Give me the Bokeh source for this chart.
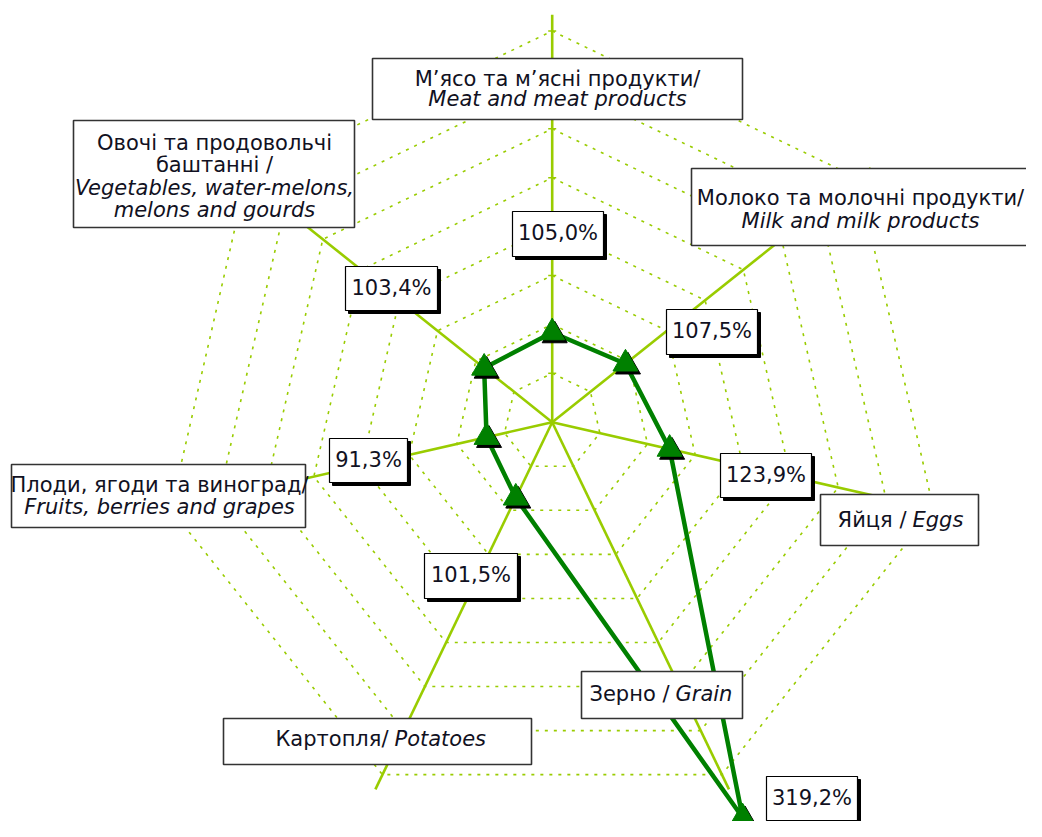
import math
from bokeh.plotting import figure
from bokeh.models import Range1d
from bokeh.core.properties import value
from bokeh.embed import file_html
from bokeh.resources import INLINE

# ---------------- data ----------------
categories_uk = ["М’ясо та м’ясні продукти/", "Молоко та молочні продукти/", "Яйця /",
                 "Зерно /", "Картопля/", "Плоди, ягоди та виноград/",
                 "Овочі та продовольчі\nбаштанні /"]
categories_en = ["Meat and meat products", "Milk and milk products", "Eggs",
                 "Grain", "Potatoes", "Fruits, berries and grapes",
                 "Vegetables, water-melons,\nmelons and gourds"]
values = [105.0, 107.5, 123.9, 319.2, 101.5, 91.3, 103.4]
axis_min = 50
axis_max = 300
grid_step = 30

# ---------------- layout (reference pixel space) ----------------
CX, CY = 551.7, 421.7      # centre of the radar in picture pixels
A = 1.63                   # pixels per percentage point
W, H = 1026, 821
FONT = value("DejaVu Sans")
FS = value("21px")
TXT = "#111122"
GRID_C = "#99CC00"
SER_C = "#008000"


def tx(X):
    return (X - CX) / A


def ty(Y):
    return (CY - Y) / A


# value label boxes (left, top, right, bottom)
value_boxes = [(512, 211, 603, 256), (666, 309, 757, 354), (720, 453, 811, 497),
               (766, 776, 857, 820), (424, 553, 517, 598), (329, 438, 407, 482),
               (345, 266, 437, 310)]
# category label boxes and text placement
cat_boxes = [(372, 58, 742, 119), (691, 168, 1050, 245), (820, 494, 978, 545),
             (581, 671, 742, 718), (223, 718, 531, 764), (11, 464, 305, 527),
             (73, 120, 354, 227)]
# stacked: ("stack", centre x, [line y...]); inline: ("inline", split x, y)
cat_text = [("stack", 557, [78, 98]), ("stack", 860, [197, 220]), ("inline", 909, 519),
            ("inline", 672, 693), ("inline", 391, 738), ("stack", 159, [484, 506]),
            ("stack", 214, [142, 164, 187, 209])]

p = figure(width=W, height=H, output_backend="svg", toolbar_location=None,
           x_range=Range1d(tx(0), tx(W)), y_range=Range1d(ty(H), ty(0)),
           x_axis_location=None, y_axis_location=None, min_border=0)
p.grid.visible = False
p.outline_line_color = None
p.background_fill_color = "white"
p.border_fill_color = "white"

n = len(values)
angles = [math.pi / 2 - 2 * math.pi * i / n for i in range(n)]

# grid rings
ring_xs, ring_ys = [], []
g = axis_min + grid_step
while g < axis_max:
    r = g - axis_min
    ring_xs.append([r * math.cos(a) for a in angles] + [r * math.cos(angles[0])])
    ring_ys.append([r * math.sin(a) for a in angles] + [r * math.sin(angles[0])])
    g += grid_step
p.multi_line(ring_xs, ring_ys, line_color=GRID_C, line_width=1.6, line_dash="3 6")

# spokes
R = axis_max - axis_min
p.segment(x0=[0] * n, y0=[0] * n, x1=[R * math.cos(a) for a in angles],
          y1=[R * math.sin(a) for a in angles], line_color=GRID_C, line_width=2.6)

# tick marks on the first axis
tick_r = [r for r in range(grid_step, R, grid_step)]
p.segment(x0=[-4 / A] * len(tick_r), x1=[4 / A] * len(tick_r), y0=tick_r, y1=tick_r,
          line_color=GRID_C, line_width=1.5)

# series
xs = [(v - axis_min) * math.cos(a) for v, a in zip(values, angles)]
ys = [(v - axis_min) * math.sin(a) for v, a in zip(values, angles)]
p.line(xs + [xs[0]], ys + [ys[0]], line_color=SER_C, line_width=4.5, line_join="round")
p.scatter([x + 2.5 / A for x in xs], [y - 3 / A for y in ys], marker="triangle", size=25,
          fill_color="black", line_color="black")
p.scatter(xs, ys, marker="triangle", size=25, fill_color=SER_C, line_color=SER_C)

# value labels with shadow
sh = 3
p.quad(left=[tx(b[0] + sh) for b in value_boxes], right=[tx(b[2] + sh) for b in value_boxes],
       top=[ty(b[1] + sh) for b in value_boxes], bottom=[ty(b[3] + sh) for b in value_boxes],
       fill_color="black", line_color="black")
p.quad(left=[tx(b[0]) for b in value_boxes], right=[tx(b[2]) for b in value_boxes],
       top=[ty(b[1]) for b in value_boxes], bottom=[ty(b[3]) for b in value_boxes],
       fill_color="white", line_color="black", line_width=1.2)
labels = [("%.1f%%" % v).replace(".", ",") for v in values]
p.text(x=[tx((b[0] + b[2]) / 2) for b in value_boxes],
       y=[ty((b[1] + b[3]) / 2 - 1) for b in value_boxes], text=labels,
       text_font=FONT, text_font_size=FS, text_align="center", text_baseline="middle",
       text_color=TXT)

# category labels
p.quad(left=[tx(b[0]) for b in cat_boxes], right=[tx(b[2]) for b in cat_boxes],
       top=[ty(b[1]) for b in cat_boxes], bottom=[ty(b[3]) for b in cat_boxes],
       fill_color="white", line_color="#333333", line_width=1.6)

groups = {"c_n": ([], [], []), "c_i": ([], [], []), "r_n": ([], [], []), "l_i": ([], [], [])}
for uk, en, spec in zip(categories_uk, categories_en, cat_text):
    if spec[0] == "stack":
        lines = [(t, False) for t in uk.split("\n")] + [(t, True) for t in en.split("\n")]
        for (t, it), yy in zip(lines, spec[2]):
            key = "c_i" if it else "c_n"
            groups[key][0].append(tx(spec[1]))
            groups[key][1].append(ty(yy))
            groups[key][2].append(t)
    else:
        groups["r_n"][0].append(tx(spec[1] - 3))
        groups["r_n"][1].append(ty(spec[2]))
        groups["r_n"][2].append(uk)
        groups["l_i"][0].append(tx(spec[1] + 3))
        groups["l_i"][1].append(ty(spec[2]))
        groups["l_i"][2].append(en)

style = {"c_n": ("center", "normal"), "c_i": ("center", "italic"),
         "r_n": ("right", "normal"), "l_i": ("left", "italic")}
for key, (gx, gy, gt) in groups.items():
    al, st = style[key]
    p.text(x=gx, y=gy, text=gt, text_font=FONT, text_font_size=FS, text_align=al,
           text_baseline="middle", text_font_style=st, text_color=TXT)

open("out.html", "w").write(file_html(p, INLINE))
